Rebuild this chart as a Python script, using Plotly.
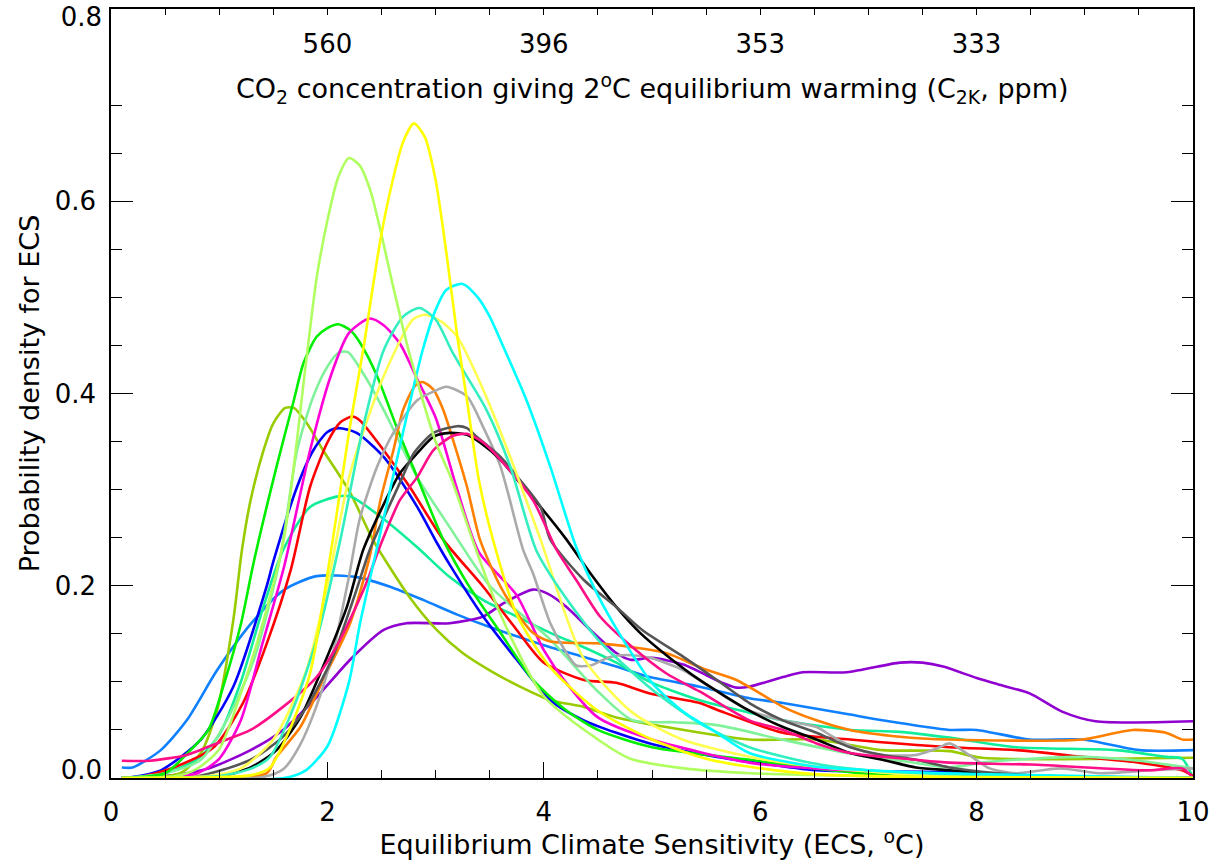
import plotly.graph_objects as go

# ---------------- data ----------------
ecs_greenyellow = [0.1, 0.6, 0.8, 1.0, 1.2, 1.4, 1.6, 1.8, 1.9, 2.0, 2.1, 2.2, 2.3, 2.4, 2.5, 2.6, 2.75, 3.0, 3.15, 3.35, 3.6, 4.0, 4.5, 4.8, 5.3, 5.9, 7.0, 8.0, 10.0]
pdf_greenyellow = [0.0, 0.002, 0.01, 0.03, 0.088, 0.16, 0.25, 0.43, 0.52, 0.58, 0.625, 0.645, 0.637, 0.61, 0.565, 0.515, 0.445, 0.35, 0.31, 0.245, 0.17, 0.085, 0.04, 0.02, 0.01, 0.005, 0.002, 0.001, 0.0]

ecs_yellow = [0.1, 1.0, 1.3, 1.47, 1.65, 1.84, 2.05, 2.2, 2.33, 2.49, 2.6, 2.7, 2.8, 2.9, 3.0, 3.1, 3.2, 3.29, 3.4, 3.53, 3.75, 4.06, 4.5, 5.0, 5.5, 6.0, 6.5, 7.5, 10.0]
pdf_yellow = [0.0, 0.001, 0.003, 0.011, 0.05, 0.109, 0.248, 0.36, 0.445, 0.56, 0.62, 0.662, 0.681, 0.667, 0.622, 0.546, 0.46, 0.393, 0.31, 0.248, 0.17, 0.115, 0.07, 0.04, 0.02, 0.01, 0.004, 0.001, 0.0]

ecs_lightyellow = [0.1, 0.9, 1.2, 1.5, 1.8, 2.0, 2.21, 2.52, 2.79, 2.9, 3.05, 3.2, 3.44, 3.69, 3.97, 4.36, 4.82, 5.28, 5.9, 6.5, 7.5, 10.0]
pdf_lightyellow = [0.0, 0.002, 0.01, 0.04, 0.11, 0.2, 0.317, 0.418, 0.477, 0.482, 0.475, 0.459, 0.404, 0.334, 0.248, 0.126, 0.068, 0.04, 0.022, 0.012, 0.003, 0.0]

ecs_cyan = [0.1, 1.6, 1.8, 2.0, 2.2, 2.3, 2.5, 2.7, 2.88, 3.0, 3.1, 3.25, 3.39, 3.5, 3.64, 3.84, 4.06, 4.3, 4.5, 4.7, 5.0, 5.3, 5.6, 5.9, 6.5, 7.0, 8.0, 10.0]
pdf_cyan = [0.0, 0.0, 0.008, 0.033, 0.1, 0.16, 0.26, 0.36, 0.445, 0.487, 0.508, 0.514, 0.5, 0.48, 0.445, 0.393, 0.324, 0.24, 0.19, 0.15, 0.099, 0.068, 0.047, 0.026, 0.012, 0.008, 0.004, 0.0]

ecs_turquoise = [0.1, 1.0, 1.3, 1.47, 1.69, 1.9, 2.12, 2.33, 2.52, 2.7, 2.85, 3.0, 3.16, 3.47, 3.69, 3.93, 4.15, 4.5, 5.0, 5.44, 5.9, 6.5, 7.0, 8.0, 10.0]
pdf_turquoise = [0.0, 0.002, 0.01, 0.022, 0.074, 0.144, 0.248, 0.365, 0.445, 0.48, 0.489, 0.477, 0.442, 0.383, 0.324, 0.237, 0.196, 0.144, 0.092, 0.057, 0.032, 0.015, 0.008, 0.003, 0.0]

ecs_magenta = [0.1, 0.5, 0.8, 1.0, 1.2, 1.4, 1.6, 1.84, 2.03, 2.2, 2.39, 2.52, 2.67, 2.83, 3.0, 3.2, 3.4, 3.75, 4.0, 4.2, 4.5, 5.0, 5.9, 6.5, 8.0, 10.0]
pdf_magenta = [0.0, 0.0, 0.005, 0.02, 0.06, 0.14, 0.22, 0.341, 0.418, 0.463, 0.478, 0.471, 0.452, 0.415, 0.375, 0.3, 0.235, 0.19, 0.133, 0.1, 0.063, 0.04, 0.016, 0.01, 0.003, 0.0]

ecs_green = [0.1, 0.5, 0.7, 0.9, 1.05, 1.2, 1.32, 1.53, 1.69, 1.78, 1.9, 2.0, 2.1, 2.21, 2.3, 2.46, 2.64, 2.83, 3.07, 3.29, 3.6, 3.9, 4.2, 4.5, 5.0, 5.9, 6.5, 7.3, 10.0]
pdf_green = [0.0, 0.005, 0.025, 0.05, 0.1, 0.16, 0.225, 0.324, 0.393, 0.432, 0.459, 0.468, 0.472, 0.466, 0.453, 0.418, 0.365, 0.313, 0.248, 0.203, 0.151, 0.102, 0.071, 0.05, 0.032, 0.019, 0.01, 0.002, 0.0]

ecs_palegreen = [0.1, 0.5, 0.83, 1.07, 1.32, 1.56, 1.72, 1.87, 2.0, 2.11, 2.19, 2.33, 2.52, 2.83, 3.13, 3.5, 4.06, 4.5, 4.82, 5.2, 5.6, 6.2, 6.8, 7.3, 7.75, 8.05, 8.5, 8.98, 9.5, 10.0]
pdf_palegreen = [0.0, 0.005, 0.019, 0.06, 0.123, 0.227, 0.341, 0.397, 0.428, 0.443, 0.443, 0.421, 0.383, 0.313, 0.261, 0.2, 0.144, 0.09, 0.06, 0.058, 0.055, 0.04, 0.026, 0.018, 0.011, 0.016, 0.02, 0.022, 0.018, 0.01]

ecs_red = [0.1, 0.27, 0.58, 0.95, 1.22, 1.44, 1.66, 1.84, 2.0, 2.12, 2.23, 2.3, 2.52, 2.76, 3.07, 3.44, 3.75, 4.0, 4.37, 4.67, 4.98, 5.44, 5.6, 6.21, 6.83, 7.75, 8.37, 8.98, 9.5, 9.9, 10.0]
pdf_red = [0.0, 0.001, 0.011, 0.032, 0.078, 0.14, 0.216, 0.303, 0.349, 0.37, 0.376, 0.372, 0.341, 0.303, 0.248, 0.199, 0.154, 0.12, 0.102, 0.099, 0.088, 0.078, 0.071, 0.047, 0.04, 0.032, 0.029, 0.022, 0.016, 0.008, 0.002]

ecs_blue = [0.1, 0.2, 0.46, 0.83, 1.13, 1.44, 1.5, 1.72, 1.87, 2.0, 2.1, 2.27, 2.52, 2.83, 3.01, 3.13, 3.44, 3.75, 4.06, 4.37, 4.67, 4.98, 5.6, 5.9, 6.52, 7.75, 8.6, 10.0]
pdf_blue = [0.0, 0.001, 0.008, 0.04, 0.095, 0.2, 0.225, 0.303, 0.341, 0.36, 0.364, 0.359, 0.334, 0.282, 0.245, 0.222, 0.168, 0.123, 0.081, 0.06, 0.047, 0.036, 0.022, 0.017, 0.008, 0.006, 0.0, 0.0]

ecs_olive = [0.1, 0.64, 0.83, 0.98, 1.13, 1.21, 1.29, 1.41, 1.5, 1.61, 1.69, 1.81, 1.96, 2.21, 2.42, 2.76, 3.01, 3.25, 3.5, 3.78, 4.06, 4.37, 4.67, 5.13, 5.9, 6.52, 7.13, 7.75, 8.05, 10.0]
pdf_olive = [0.0, 0.005, 0.026, 0.07, 0.164, 0.237, 0.289, 0.341, 0.369, 0.385, 0.385, 0.369, 0.341, 0.297, 0.248, 0.188, 0.154, 0.13, 0.112, 0.095, 0.081, 0.074, 0.063, 0.053, 0.04, 0.04, 0.029, 0.028, 0.021, 0.021]

ecs_springgreen = [0.1, 0.5, 0.8, 1.0, 1.2, 1.4, 1.59, 1.84, 2.1, 2.21, 2.49, 2.83, 3.13, 3.44, 3.75, 4.06, 4.37, 4.67, 4.98, 5.44, 5.9, 6.21, 6.83, 7.29, 7.75, 8.37, 9.29, 9.75, 9.9, 10.0]
pdf_springgreen = [0.0, 0.005, 0.02, 0.045, 0.1, 0.175, 0.237, 0.282, 0.293, 0.293, 0.272, 0.24, 0.209, 0.185, 0.168, 0.151, 0.136, 0.12, 0.1, 0.081, 0.068, 0.06, 0.05, 0.048, 0.042, 0.032, 0.029, 0.022, 0.02, 0.0]

ecs_dodger = [0.1, 0.2, 0.46, 0.7, 0.98, 1.29, 1.59, 1.9, 2.27, 2.58, 2.89, 3.2, 3.5, 4.06, 4.37, 4.67, 4.98, 5.44, 5.9, 6.21, 6.83, 7.13, 7.75, 8.0, 8.49, 8.98, 9.5, 10.0]
pdf_dodger = [0.011, 0.011, 0.029, 0.06, 0.112, 0.16, 0.195, 0.21, 0.209, 0.199, 0.185, 0.17, 0.157, 0.136, 0.126, 0.116, 0.105, 0.095, 0.083, 0.078, 0.066, 0.06, 0.05, 0.05, 0.04, 0.04, 0.029, 0.029]

ecs_purple = [0.1, 0.5, 0.9, 1.29, 1.59, 1.9, 2.21, 2.52, 2.73, 3.13, 3.44, 3.63, 3.9, 4.03, 4.21, 4.43, 4.67, 4.8, 5.0, 5.29, 5.65, 5.78, 5.9, 6.21, 6.39, 6.8, 7.29, 7.5, 7.69, 8.0, 8.21, 8.49, 8.79, 9.1, 10.0]
pdf_purple = [0.0, 0.002, 0.01, 0.029, 0.05, 0.084, 0.123, 0.154, 0.161, 0.161, 0.168, 0.182, 0.196, 0.192, 0.178, 0.154, 0.13, 0.123, 0.125, 0.118, 0.099, 0.094, 0.095, 0.105, 0.11, 0.11, 0.12, 0.12, 0.116, 0.104, 0.097, 0.088, 0.069, 0.059, 0.059]

ecs_deeppink = [0.1, 0.36, 0.7, 1.0, 1.29, 1.59, 1.9, 2.1, 2.35, 2.5, 2.67, 2.83, 2.98, 3.16, 3.29, 3.44, 3.6, 3.9, 4.12, 4.3, 4.52, 4.82, 5.13, 5.44, 5.9, 6.21, 6.52, 6.83, 7.44, 7.75, 8.5, 9.6, 9.9, 10.0]
pdf_deeppink = [0.018, 0.018, 0.024, 0.037, 0.05, 0.074, 0.105, 0.14, 0.2, 0.245, 0.289, 0.313, 0.341, 0.356, 0.358, 0.349, 0.331, 0.289, 0.237, 0.206, 0.168, 0.136, 0.109, 0.09, 0.06, 0.05, 0.036, 0.026, 0.019, 0.016, 0.014, 0.008, 0.01, 0.0]

ecs_orange = [0.1, 1.2, 1.44, 1.53, 1.75, 1.96, 2.21, 2.39, 2.49, 2.61, 2.7, 2.81, 2.88, 2.98, 3.07, 3.16, 3.29, 3.41, 3.6, 3.75, 3.9, 4.06, 4.52, 4.82, 5.13, 5.47, 5.78, 6.06, 6.21, 6.52, 6.83, 7.29, 7.75, 8.98, 9.44, 9.75, 9.9, 10.0]
pdf_orange = [0.0, 0.0, 0.005, 0.022, 0.053, 0.102, 0.161, 0.23, 0.289, 0.341, 0.383, 0.408, 0.412, 0.404, 0.383, 0.352, 0.303, 0.248, 0.199, 0.172, 0.151, 0.142, 0.14, 0.136, 0.13, 0.114, 0.102, 0.084, 0.074, 0.06, 0.05, 0.043, 0.04, 0.04, 0.05, 0.047, 0.04, 0.04]

ecs_gray = [0.1, 1.4, 1.6, 1.75, 1.9, 2.05, 2.2, 2.3, 2.46, 2.61, 2.83, 2.98, 3.1, 3.29, 3.44, 3.6, 3.81, 3.9, 4.06, 4.21, 4.3, 4.43, 4.61, 4.77, 4.98, 5.29, 5.6, 5.9, 6.21, 6.52, 6.67, 6.92, 7.13, 7.44, 7.66, 7.75, 7.93, 8.12, 8.37, 8.77, 9.13, 9.6, 10.0]
pdf_gray = [0.0, 0.001, 0.01, 0.035, 0.075, 0.13, 0.21, 0.27, 0.324, 0.359, 0.393, 0.402, 0.407, 0.397, 0.365, 0.324, 0.237, 0.213, 0.161, 0.13, 0.117, 0.117, 0.126, 0.128, 0.125, 0.112, 0.09, 0.07, 0.06, 0.053, 0.043, 0.029, 0.024, 0.024, 0.032, 0.036, 0.024, 0.01, 0.005, 0.01, 0.005, 0.008, 0.01]

ecs_black = [0.1, 0.98, 1.29, 1.53, 1.75, 1.96, 2.18, 2.33, 2.5, 2.67, 2.8, 2.98, 3.13, 3.29, 3.41, 3.6, 3.78, 3.97, 4.21, 4.43, 4.67, 4.89, 5.13, 5.44, 5.9, 6.21, 6.52, 6.83, 7.13, 7.44, 7.75, 8.2, 8.7, 10.0]
pdf_black = [0.0, 0.001, 0.011, 0.029, 0.063, 0.116, 0.178, 0.237, 0.28, 0.317, 0.334, 0.355, 0.359, 0.357, 0.349, 0.331, 0.307, 0.282, 0.248, 0.213, 0.178, 0.151, 0.128, 0.102, 0.07, 0.053, 0.04, 0.026, 0.019, 0.011, 0.008, 0.004, 0.001, 0.0]

ecs_darkgray = [0.1, 0.77, 1.29, 1.59, 1.81, 2.05, 2.27, 2.39, 2.67, 2.8, 2.98, 3.2, 3.29, 3.38, 3.6, 3.78, 3.97, 4.06, 4.37, 4.67, 4.91, 5.29, 5.6, 5.9, 6.21, 6.52, 6.83, 7.13, 7.44, 7.75, 8.2, 8.7, 10.0]
pdf_darkgray = [0.0, 0.001, 0.019, 0.043, 0.074, 0.126, 0.196, 0.237, 0.307, 0.338, 0.359, 0.366, 0.364, 0.355, 0.334, 0.31, 0.282, 0.248, 0.206, 0.178, 0.154, 0.126, 0.102, 0.078, 0.06, 0.047, 0.032, 0.024, 0.019, 0.011, 0.005, 0.002, 0.0]

top_tick_vals = [2, 4, 6, 8]
top_tick_text = ["560", "396", "353", "333"]
y_tick_vals = [0.2, 0.4, 0.6]
y_tick_text = ["0.2", "0.4", "0.6"]
y_bottom_val = [0.0]
y_bottom_text = ["0.0"]
y_top_val = [0.8]
y_top_text = ["0.8"]

# ---------------- figure ----------------
series = [
    (ecs_dodger, pdf_dodger, "#0f80ff"),
    (ecs_purple, pdf_purple, "#9000d0"),
    (ecs_olive, pdf_olive, "#99cc00"),
    (ecs_springgreen, pdf_springgreen, "#11ee99"),
    (ecs_blue, pdf_blue, "#0000ff"),
    (ecs_red, pdf_red, "#ff0000"),
    (ecs_palegreen, pdf_palegreen, "#7ff29a"),
    (ecs_green, pdf_green, "#00ee00"),
    (ecs_magenta, pdf_magenta, "#ff00d8"),
    (ecs_orange, pdf_orange, "#ff8000"),
    (ecs_gray, pdf_gray, "#aaaaaa"),
    (ecs_black, pdf_black, "#000000"),
    (ecs_darkgray, pdf_darkgray, "#555555"),
    (ecs_deeppink, pdf_deeppink, "#ff0f87"),
    (ecs_lightyellow, pdf_lightyellow, "#ffff50"),
    (ecs_turquoise, pdf_turquoise, "#33efbf"),
    (ecs_cyan, pdf_cyan, "#00ffff"),
    (ecs_greenyellow, pdf_greenyellow, "#b0ff60"),
    (ecs_yellow, pdf_yellow, "#ffff00"),
]

fig = go.Figure()
for xs, ys, col in series:
    fig.add_trace(go.Scatter(x=xs, y=ys, mode="lines",
                             line=dict(color=col, width=2.6, shape="spline", smoothing=0.7),
                             showlegend=False, hoverinfo="skip"))

# invisible traces that switch on the top axis and the extra left axes (end labels)
fig.add_trace(go.Scatter(x=[0, 10], y=[0, 0], xaxis="x2", mode="lines",
                         line=dict(width=0), showlegend=False, hoverinfo="skip"))
fig.add_trace(go.Scatter(x=[0], y=[0], yaxis="y2", mode="lines", line=dict(width=0),
                         showlegend=False, hoverinfo="skip"))
fig.add_trace(go.Scatter(x=[0], y=[0], yaxis="y3", mode="lines", line=dict(width=0),
                         showlegend=False, hoverinfo="skip"))

FONT = "DejaVu Sans, Liberation Sans, Arial, sans-serif"
FS = 26
FT = 27
TICKC = "black"
YR = [0, 0.8]

fig.update_layout(
    width=1221, height=860,
    margin=dict(l=111, r=28, t=9, b=82, autoexpand=False),
    paper_bgcolor="white", plot_bgcolor="white",
    font=dict(family=FONT, size=FS, color="black"),
    xaxis=dict(
        range=[0, 10], dtick=2, tick0=0, automargin=False,
        ticks="inside", ticklen=16, tickwidth=1.3, tickcolor=TICKC,
        minor=dict(dtick=0.5, ticks="inside", ticklen=8, tickwidth=1.3, tickcolor=TICKC),
        showline=True, linecolor="black", linewidth=1.6, mirror=True,
        showgrid=False, zeroline=False,
        tickfont=dict(size=FS, color="black"), ticklabelstandoff=10,
        ticklabeloverflow="allow",
        title=dict(text="Equilibrium Climate Sensitivity (ECS, <sup>o</sup>C)",
                   font=dict(size=FT, color="black"), standoff=2),
    ),
    xaxis2=dict(
        overlaying="x", side="top", range=[0, 10], automargin=False,
        tickvals=top_tick_vals, ticktext=top_tick_text,
        ticks="inside", ticklen=6, tickwidth=1.3, tickcolor=TICKC,
        minor=dict(dtick=0.5, ticks="inside", ticklen=6, tickwidth=1.3, tickcolor=TICKC),
        ticklabelposition="inside", ticklabelstandoff=22,
        showline=False, showgrid=False, zeroline=False,
        tickfont=dict(size=FS, color="black"),
    ),
    yaxis=dict(
        range=YR, automargin=False,
        tickvals=y_tick_vals, ticktext=y_tick_text,
        ticks="inside", ticklen=22, tickwidth=1.3, tickcolor=TICKC,
        minor=dict(dtick=0.05, ticks="inside", ticklen=11, tickwidth=1.3, tickcolor=TICKC),
        showline=True, linecolor="black", linewidth=1.6, mirror="ticks",
        showgrid=False, zeroline=False,
        tickfont=dict(size=FS, color="black"), ticklabelstandoff=8,
        title=dict(text="Probability density for ECS", font=dict(size=FT, color="black"), standoff=7),
    ),
    yaxis2=dict(
        overlaying="y", side="left", range=YR, automargin=False,
        tickvals=y_bottom_val, ticktext=y_bottom_text, ticks="",
        showline=False, showgrid=False, zeroline=False,
        tickfont=dict(size=FS, color="black"), ticklabelstandoff=8, ticklabelshift=-8,
        ticklabeloverflow="allow",
    ),
    yaxis3=dict(
        overlaying="y", side="left", range=YR, automargin=False,
        tickvals=y_top_val, ticktext=y_top_text, ticks="",
        showline=False, showgrid=False, zeroline=False,
        tickfont=dict(size=FS, color="black"), ticklabelstandoff=8, ticklabelshift=8,
        ticklabeloverflow="allow",
    ),
    annotations=[dict(
        text="CO<sub>2</sub> concentration giving 2<sup>o</sup>C equilibrium warming (C<sub>2K</sub>, ppm)",
        xref="paper", yref="paper", x=0.5, y=1, yshift=-79, yanchor="middle",
        showarrow=False, font=dict(size=FT, color="black"))],
)

fig.write_html("out.html", config={"displayModeBar": False},
               post_script="document.body.style.margin='0px';")
